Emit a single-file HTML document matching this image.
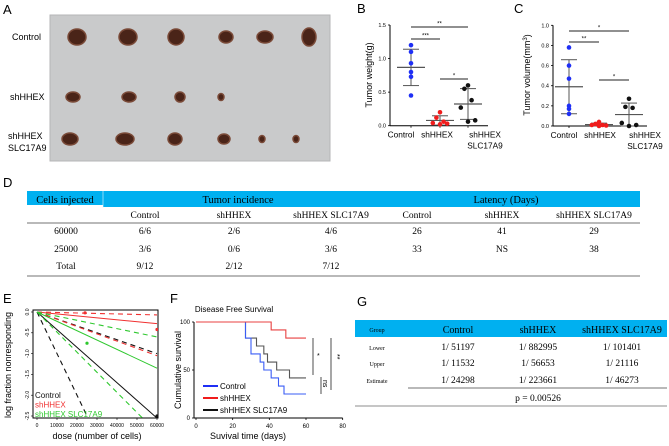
<!DOCTYPE html>
<html><head><meta charset="utf-8"><style>
html,body{margin:0;padding:0;background:#fff;overflow:hidden;width:669px;height:446px}
svg{display:block;font-family:"Liberation Sans",sans-serif;overflow:hidden}
.serif{font-family:"Liberation Serif",serif}
</style></head><body>
<svg id="fig" width="669" height="446" viewBox="0 0 669 446" xmlns="http://www.w3.org/2000/svg">
<g>
<text x="3" y="14" font-size="13">A</text>
<rect x="50" y="15" width="280" height="146" fill="#c9cacb"/>
<rect x="50" y="15" width="280" height="146" fill="none" stroke="#b5b6b7" stroke-width="1"/>
<text x="12" y="40" font-size="9">Control</text>
<text x="10" y="100" font-size="9">shHHEX</text>
<text x="8" y="139" font-size="9"><tspan x="8">shHHEX</tspan><tspan x="8" dy="12">SLC17A9</tspan></text>
<g id="tumors"></g>
</g>
<g id="pb">
<text x="357" y="13" font-size="13">B</text>
<text transform="translate(372,75) rotate(-90)" text-anchor="middle" font-size="9">Tumor weight(g)</text>
</g>
<g id="pc">
<text x="514" y="13" font-size="13">C</text>
<text transform="translate(530,75) rotate(-90)" text-anchor="middle" font-size="9">Tumor volume(mm<tspan dy="-3" font-size="6">3</tspan><tspan dy="3">)</tspan></text>
</g>
<g class="serif" font-size="9.5" text-anchor="middle">
<text x="3" y="187" font-size="13" text-anchor="start" font-family="Liberation Sans">D</text>
<rect x="27" y="191" width="613" height="16" fill="#00b0f0"/>
<rect x="27" y="205" width="76" height="3" fill="#fff"/>
<line x1="103" y1="191" x2="103" y2="208" stroke="#e8f6fc" stroke-width="0.6"/>
<text x="65" y="203" font-size="10.5">Cells injected</text>
<text x="238" y="203" font-size="10.5">Tumor incidence</text>
<text x="506" y="203" font-size="10.5">Latency (Days)</text>
<text x="145" y="218">Control</text><text x="234" y="218">shHHEX</text><text x="331" y="218">shHHEX SLC17A9</text>
<text x="417" y="218">Control</text><text x="502" y="218">shHHEX</text><text x="594" y="218">shHHEX SLC17A9</text>
<line x1="27" y1="223" x2="640" y2="223" stroke="#444" stroke-width="0.8"/>
<text x="66" y="234">60000</text><text x="145" y="234">6/6</text><text x="234" y="234">2/6</text><text x="331" y="234">4/6</text><text x="417" y="234">26</text><text x="502" y="234">41</text><text x="594" y="234">29</text>
<text x="66" y="252">25000</text><text x="145" y="252">3/6</text><text x="234" y="252">0/6</text><text x="331" y="252">3/6</text><text x="417" y="252">33</text><text x="502" y="252">NS</text><text x="594" y="252">38</text>
<text x="66" y="269">Total</text><text x="145" y="269">9/12</text><text x="234" y="269">2/12</text><text x="331" y="269">7/12</text>
<line x1="27" y1="276" x2="640" y2="276" stroke="#444" stroke-width="0.8"/>
</g>
<g id="pe">
<text x="3" y="303" font-size="13">E</text>
<text transform="translate(11,365) rotate(-90)" text-anchor="middle" font-size="9">log fraction nonresponding</text>
<text x="97" y="439" text-anchor="middle" font-size="9">dose (number of cells)</text>
</g>
<g id="pf">
<text x="170" y="303" font-size="13">F</text>
<text x="234" y="312" text-anchor="middle" font-size="8">Disease Free Survival</text>
<text transform="translate(181,370) rotate(-90)" text-anchor="middle" font-size="9">Cumulative survival</text>
<text x="248" y="439" text-anchor="middle" font-size="9">Suvival time (days)</text>
</g>
<g class="serif" text-anchor="middle" font-size="9.5">
<text x="357" y="306" font-size="13" text-anchor="start" font-family="Liberation Sans">G</text>
<rect x="355" y="320" width="312" height="17" fill="#00b0f0"/>
<text x="377" y="332" font-size="6">Group</text>
<text x="458" y="333" font-size="10">Control</text><text x="538" y="333" font-size="10">shHHEX</text><text x="622" y="333" font-size="10">shHHEX SLC17A9</text>
<text x="377" y="350" font-size="6">Lower</text><text x="458" y="350">1/ 51197</text><text x="538" y="350">1/ 882995</text><text x="622" y="350">1/ 101401</text>
<text x="377" y="366" font-size="6">Upper</text><text x="458" y="366">1/ 11532</text><text x="538" y="366">1/ 56653</text><text x="622" y="366">1/ 21116</text>
<text x="377" y="383" font-size="6">Estimate</text><text x="458" y="383">1/ 24298</text><text x="538" y="383">1/ 223661</text><text x="622" y="383">1/ 46273</text>
<line x1="408" y1="388" x2="667" y2="388" stroke="#444" stroke-width="0.8"/>
<text x="538" y="401">p = 0.00526</text>
<line x1="355" y1="406" x2="667" y2="406" stroke="#666" stroke-width="0.8"/>
</g>
</svg>
<script>
const groupsBC = ["Control","shHHEX","shHHEX SLC17A9"];
const weightControl = [1.2,1.1,0.93,0.8,0.73,0.45];
const weightShHHEX = [0.2,0.12,0.06,0.04,0.03,0.02];
const weightSLC = [0.6,0.55,0.38,0.27,0.08,0.06];
const volumeControl = [0.78,0.6,0.47,0.2,0.17,0.12];
const volumeShHHEX = [0.04,0.02,0.01,0.01,0.005,0.0];
const volumeSLC = [0.27,0.19,0.18,0.03,0.01,0.0];
const ticksB = [0,0.5,1.0,1.5];
const ticksC = [0,0.2,0.4,0.6,0.8,1.0];
const sigB = [["Control","shHHEX SLC17A9","**"],["Control","shHHEX","***"],["shHHEX","shHHEX SLC17A9","*"]];
const sigC = [["Control","shHHEX SLC17A9","*"],["Control","shHHEX","**"],["shHHEX","shHHEX SLC17A9","*"]];
const eLineNames = ["control-upper","control-fit","control-lower","shhhex-upper","shhhex-fit","shhhex-lower","slc-upper","slc-fit","slc-lower"];
const eLineEnd = [-1.0,-2.55,-6.0,-0.07,-0.28,-1.05,-0.6,-1.35,-2.9];
const eLineGroup = ["Control","Control","Control","shHHEX","shHHEX","shHHEX","SLC","SLC","SLC"];
const eLineDashed = [1,0,1,1,0,1,1,0,1];
const ePointDose = [24000,60000,25000,60000];
const ePointVal = [-0.02,-0.42,-0.75,-2.5];
const ePointGroup = ["shHHEX","shHHEX","SLC","Control"];
const eTicksX = [0,10000,20000,30000,40000,50000,60000];
const eTicksY = [0,-0.5,-1.0,-1.5,-2.0,-2.5];
const kmTimesControl = [0,27,30,35,37,41,45,48,60];
const kmSurvControl = [100,83.3,66.7,58.3,50,41.7,33.3,25,25];
const kmTimesShHHEX = [0,41,49,60];
const kmSurvShHHEX = [100,91.7,83.3,83.3];
const kmTimesSLC = [0,27,33,37,39,44,51,60];
const kmSurvSLC = [100,83.3,75,66.7,58.3,50,41.7,41.7];
const fTicksX = [0,20,40,60,80];
const fTicksY = [0,50,100];

const NS="http://www.w3.org/2000/svg";
function mk(parent,tag,attrs,text){const e=document.createElementNS(NS,tag);for(const k in attrs)e.setAttribute(k,attrs[k]);if(text!==undefined)e.textContent=text;parent.appendChild(e);return e;}
const colors={"Control":"#1f2ff5","shHHEX":"#f01c1c","shHHEX SLC17A9":"#111"};

(function(){
  const g=document.getElementById('tumors');
  const rows=[[37,[[77,9,8],[128,9,8],[176,8,8],[226,7,6],[265,8,6],[309,7,9]]],
              [97,[[73,7,5],[129,7,5],[180,5,5],[221,3,3.5]]],
              [139,[[70,8,6],[125,9,6],[175,7,6],[224,6,5],[262,3,3.5],[296,3,3.5]]]];
  rows.forEach(r=>r[1].forEach(t=>{
    const e=mk(g,'ellipse',{cx:t[0],cy:r[0],rx:t[1],ry:t[2],fill:'#4a2418',stroke:'#7a4a38','stroke-width':1.5});
    
    
  }));
})();

function scatter(gid,axisX,axisEnd,y0,yTop,vmax,catX,labX,ticks,series,sigs,sigY){
  const g=document.getElementById(gid);
  const yS=v=>y0-(v/vmax)*(y0-yTop);
  mk(g,'line',{x1:axisX,y1:yTop,x2:axisX,y2:y0,stroke:'#000','stroke-width':1});
  mk(g,'line',{x1:axisX,y1:y0,x2:axisEnd,y2:y0,stroke:'#000','stroke-width':1});
  ticks.forEach(t=>{
    mk(g,'line',{x1:axisX-2,y1:yS(t),x2:axisX,y2:yS(t),stroke:'#000','stroke-width':0.8});
    const tl=mk(g,'text',{x:axisX-4,y:yS(t)+2,'text-anchor':'end','font-size':5.5},t.toFixed(1));
    
    
  });
  groupsBC.forEach((name,i)=>{
    const cx=catX[i];
    mk(g,'line',{x1:cx,y1:y0,x2:cx,y2:y0+2,stroke:'#000','stroke-width':0.8});
    const lines=name==="shHHEX SLC17A9"?["shHHEX","SLC17A9"]:[name];
    lines.forEach((s,k)=>{const tl=mk(g,'text',{x:labX[i],y:y0+12+k*11,'text-anchor':'middle','font-size':8.3},s);
      
      });
    const vals=series[i];
    const mean=vals.reduce((a,b)=>a+b,0)/vals.length;
    const sd=Math.sqrt(vals.reduce((a,b)=>a+(b-mean)**2,0)/(vals.length-1));
    const col=colors[name];
    mk(g,'line',{x1:cx,y1:yS(mean+sd),x2:cx,y2:yS(Math.max(0,mean-sd)),stroke:'#555','stroke-width':1});
    mk(g,'line',{x1:cx-14,y1:yS(mean),x2:cx+14,y2:yS(mean),stroke:'#555','stroke-width':1.2});
    mk(g,'line',{x1:cx-8,y1:yS(mean+sd),x2:cx+8,y2:yS(mean+sd),stroke:'#555','stroke-width':1});
    mk(g,'line',{x1:cx-8,y1:yS(Math.max(0,mean-sd)),x2:cx+8,y2:yS(Math.max(0,mean-sd)),stroke:'#555','stroke-width':1});
    const jit2=[0,-3,3,-6,6,0];
    vals.forEach((v,k)=>{
      const jx=(name==="Control")?0:jit2[k]*1.2;
      const p=mk(g,'circle',{cx:cx+jx,cy:yS(v),r:2.3,fill:col});
      
      
    });
  });
  sigs.forEach((s,k)=>{
    const a=catX[groupsBC.indexOf(s[0])],b=catX[groupsBC.indexOf(s[1])];
    mk(g,'line',{x1:a,y1:sigY[k],x2:b,y2:sigY[k],stroke:'#222','stroke-width':0.9});
    const st=mk(g,'text',{x:(a+b)/2,y:sigY[k]-1.5,'text-anchor':'middle','font-size':6},s[2]);
    
    
  });
}
scatter('pb',390,488,125.7,25,1.5,[411,440,468],[401,437,485],ticksB,[weightControl,weightShHHEX,weightSLC],sigB,[27,39,79]);
scatter('pc',553,647,126,25.3,1.0,[569,599,629],[564,600,645],ticksC,[volumeControl,volumeShHHEX,volumeSLC],sigC,[31,42,80]);

(function(){
  const g=document.getElementById('pe');
  const L=33,R=158,T=310,B=418;
  const xS=d=>37+d/60000*120, yS=v=>312+(-v)/2.5*104;
  const defs=mk(g,'defs',{});
  const cp=mk(defs,'clipPath',{id:'clipE'});
  mk(cp,'rect',{x:L,y:T,width:R-L,height:B-T});
  mk(g,'rect',{x:L,y:T,width:R-L,height:B-T,fill:'none',stroke:'#000','stroke-width':1});
  const ec={"Control":"#111","shHHEX":"#f03030","SLC":"#2ec82e"};
  const lg=mk(g,'g',{'clip-path':'url(#clipE)'});
  eLineEnd.forEach((v,i)=>{
    const l=mk(lg,'line',{x1:xS(0),y1:yS(0),x2:xS(60000),y2:yS(v),stroke:ec[eLineGroup[i]],'stroke-width':eLineDashed[i]?1.1:1,'stroke-dasharray':eLineDashed[i]?'5,4':'none'});
    
    
  });
  ePointDose.forEach((d,i)=>{
    const p=mk(lg,'circle',{cx:xS(d),cy:yS(ePointVal[i]),r:1.6,fill:ec[ePointGroup[i]]});
    
    
  });
  eTicksX.forEach(t=>{
    mk(g,'line',{x1:xS(t),y1:B,x2:xS(t),y2:B+2,stroke:'#000','stroke-width':0.6});
    const tl=mk(g,'text',{x:xS(t),y:B+9,'text-anchor':'middle','font-size':5},String(t));
    
    
  });
  eTicksY.forEach(t=>{
    mk(g,'line',{x1:L-2,y1:yS(t),x2:L,y2:yS(t),stroke:'#000','stroke-width':0.6});
    const tl=mk(g,'text',{transform:`translate(${L-4},${yS(t)}) rotate(-90)`,'text-anchor':'middle','font-size':5},t.toFixed(1));
    
    
  });
  [["Control","#111"],["shHHEX","#f03030"],["shHHEX SLC17A9","#2ec82e"]].forEach((e,i)=>{
    const t=mk(g,'text',{x:35,y:398+i*9.5,'font-size':8,fill:e[1]},e[0]);
    
    
  });
})();

(function(){
  const g=document.getElementById('pf');
  const xS=t=>196+t/60*110, yS=s=>418-s/100*96;
  mk(g,'line',{x1:194,y1:yS(100),x2:194,y2:yS(0),stroke:'#000','stroke-width':1});
  mk(g,'line',{x1:194,y1:yS(0),x2:xS(80),y2:yS(0),stroke:'#000','stroke-width':1});
  fTicksX.forEach(t=>{
    mk(g,'line',{x1:xS(t),y1:yS(0),x2:xS(t),y2:yS(0)+2,stroke:'#000','stroke-width':0.8});
    const tl=mk(g,'text',{x:xS(t),y:yS(0)+10,'text-anchor':'middle','font-size':6},String(t));
    
    
  });
  fTicksY.forEach(t=>{
    mk(g,'line',{x1:192,y1:yS(t),x2:194,y2:yS(t),stroke:'#000','stroke-width':0.8});
    const tl=mk(g,'text',{x:190,y:yS(t)+2,'text-anchor':'end','font-size':6},String(t));
    
    
  });
  function step(times,surv,col,name){
    let d=`M${xS(times[0])},${yS(surv[0])}`;
    for(let i=1;i<times.length;i++){d+=` H${xS(times[i])} V${yS(surv[i])}`;}
    const p=mk(g,'path',{d:d,fill:'none',stroke:col,'stroke-width':1.1});
    
    
  }
  step(kmTimesSLC,kmSurvSLC,'#555','survival-curve-shhhex-slc17a9');
  step(kmTimesControl,kmSurvControl,'#3a5cf5','survival-curve-control');
  step(kmTimesShHHEX,kmSurvShHHEX,'#e84040','survival-curve-shhhex');
  [["Control","#1f2ff5"],["shHHEX","#f01c1c"],["shHHEX SLC17A9","#111"]].forEach((e,i)=>{
    mk(g,'line',{x1:203,y1:386+i*12,x2:218,y2:386+i*12,stroke:e[1],'stroke-width':2});
    const t=mk(g,'text',{x:220,y:389+i*12,'font-size':8},e[0]);
    
    
  });
  mk(g,'line',{x1:313,y1:338,x2:313,y2:375,stroke:'#222','stroke-width':0.8});
  mk(g,'text',{x:317,y:358,'font-size':7},'*');
  mk(g,'line',{x1:331,y1:338,x2:331,y2:390,stroke:'#222','stroke-width':0.8});
  mk(g,'text',{transform:'translate(335,354) rotate(90)','font-size':7},'**');
  mk(g,'line',{x1:321,y1:377,x2:321,y2:394,stroke:'#222','stroke-width':0.8});
  mk(g,'text',{transform:'translate(323,380) rotate(90)','font-size':7},'ns');
})();
</script>
</body></html>
